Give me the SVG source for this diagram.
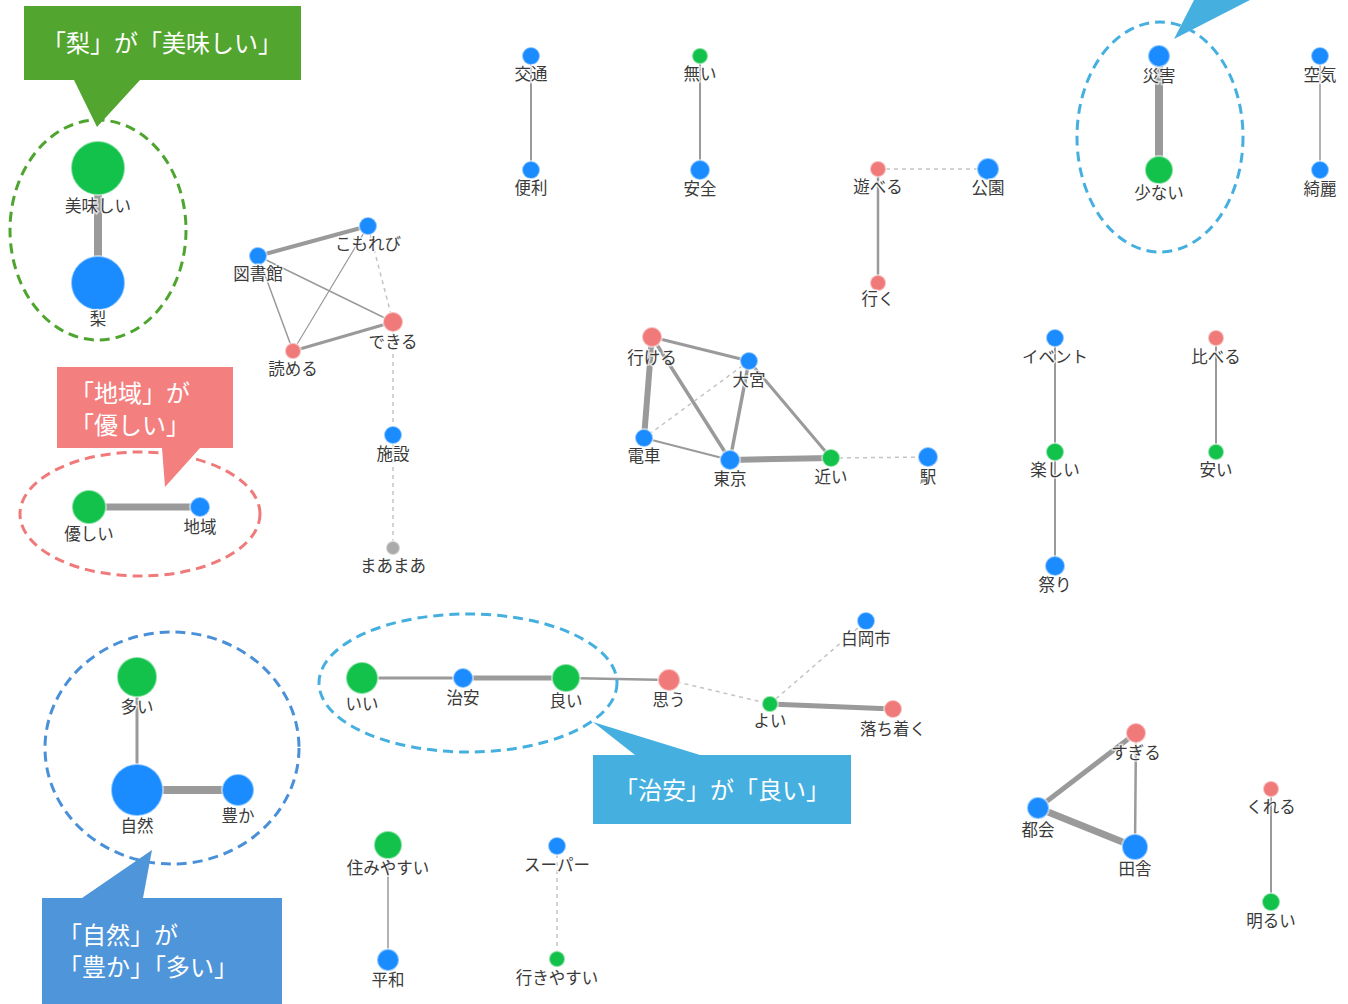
<svg xmlns="http://www.w3.org/2000/svg" width="1348" height="1004" viewBox="0 0 1348 1004">
<style>
.e{stroke:#9a9a9a;fill:none;stroke-linecap:round}
.d{stroke:#c4c4c4;fill:none;stroke-dasharray:4 4;stroke-width:1.5}
.b{fill:#1a8cff}
.g{fill:#12c24a}
.r{fill:#f07a7a}
.k{fill:#aaaaaa}
.n circle{stroke:#ffffff;stroke-opacity:0.5;stroke-width:2}
.n text{font-family:"Noto Sans CJK JP","Noto Sans",sans-serif;font-size:16.5px;fill:#3a3a3a;text-anchor:middle;dominant-baseline:central;paint-order:stroke;stroke:#ffffff;stroke-width:3;stroke-opacity:0.7}
.c text{font-family:"Noto Sans CJK JP","Noto Sans",sans-serif;font-size:24px;fill:#ffffff}
.ov{fill:none;stroke-width:3;stroke-dasharray:10 6}
</style>
<rect width="1348" height="1004" fill="#ffffff"/>

<g id="connectors">
<line class="e" x1="98" y1="168" x2="98" y2="283" stroke-width="8"/>
<line class="e" x1="258" y1="256" x2="368" y2="226" stroke-width="4"/>
<line class="e" x1="258" y1="256" x2="393" y2="322" stroke-width="1.5"/>
<line class="e" x1="258" y1="256" x2="293" y2="351" stroke-width="1.5"/>
<line class="e" x1="368" y1="226" x2="293" y2="351" stroke-width="1.2"/>
<line class="d" x1="368" y1="226" x2="393" y2="322"/>
<line class="e" x1="293" y1="351" x2="393" y2="322" stroke-width="3"/>
<line class="d" x1="393" y1="322" x2="393" y2="435"/>
<line class="d" x1="393" y1="435" x2="393" y2="548"/>
<line class="e" x1="89" y1="507" x2="200" y2="507" stroke-width="7"/>
<line class="e" x1="137" y1="677" x2="137" y2="790" stroke-width="3"/>
<line class="e" x1="137" y1="790" x2="238" y2="790" stroke-width="8"/>
<line class="e" x1="362" y1="678" x2="463" y2="678" stroke-width="3"/>
<line class="e" x1="463" y1="678" x2="566" y2="678" stroke-width="5"/>
<line class="e" x1="566" y1="678" x2="669" y2="680" stroke-width="2.5"/>
<line class="d" x1="669" y1="680" x2="770" y2="704"/>
<line class="d" x1="770" y1="704" x2="866" y2="621"/>
<line class="e" x1="770" y1="704" x2="893" y2="709" stroke-width="5"/>
<line class="e" x1="1159" y1="56" x2="1159" y2="170" stroke-width="8"/>
<line class="e" x1="1320" y1="56" x2="1320" y2="170" stroke-width="1.5"/>
<line class="e" x1="531" y1="56" x2="531" y2="170" stroke-width="2"/>
<line class="e" x1="700" y1="56" x2="700" y2="170" stroke-width="2"/>
<line class="d" x1="878" y1="169" x2="988" y2="169"/>
<line class="e" x1="878" y1="169" x2="878" y2="283" stroke-width="2.5"/>
<line class="e" x1="652" y1="337" x2="749" y2="361" stroke-width="3"/>
<line class="e" x1="652" y1="337" x2="644" y2="438" stroke-width="6"/>
<line class="e" x1="652" y1="337" x2="730" y2="460" stroke-width="3.5"/>
<line class="d" x1="749" y1="361" x2="644" y2="438"/>
<line class="e" x1="749" y1="361" x2="730" y2="460" stroke-width="3.5"/>
<line class="e" x1="749" y1="361" x2="831" y2="458" stroke-width="3"/>
<line class="e" x1="644" y1="438" x2="730" y2="460" stroke-width="2"/>
<line class="e" x1="730" y1="460" x2="831" y2="458" stroke-width="6"/>
<line class="d" x1="831" y1="458" x2="928" y2="457"/>
<line class="e" x1="1055" y1="338" x2="1055" y2="452" stroke-width="2"/>
<line class="e" x1="1055" y1="452" x2="1055" y2="566" stroke-width="2"/>
<line class="e" x1="1216" y1="338" x2="1216" y2="452" stroke-width="2"/>
<line class="e" x1="1136" y1="733" x2="1038" y2="808" stroke-width="5"/>
<line class="e" x1="1038" y1="808" x2="1135" y2="847" stroke-width="7"/>
<line class="e" x1="1136" y1="733" x2="1135" y2="847" stroke-width="2.5"/>
<line class="e" x1="1271" y1="789" x2="1271" y2="902" stroke-width="2"/>
<line class="e" x1="388" y1="845" x2="388" y2="960" stroke-width="1.5"/>
<line class="d" x1="557" y1="846" x2="557" y2="959"/>
</g>

<g id="nodes">
<g id="n-oishii" class="n"><circle class="g" cx="98" cy="168" r="27"/><text x="98" y="205">美味しい</text></g>
<g id="n-nashi" class="n"><circle class="b" cx="98" cy="283" r="27"/><text x="98" y="318">梨</text></g>
<g id="n-toshokan" class="n"><circle class="b" cx="258" cy="256" r="9"/><text x="258" y="273">図書館</text></g>
<g id="n-komorebi" class="n"><circle class="b" cx="368" cy="226" r="9"/><text x="368" y="243">こもれび</text></g>
<g id="n-dekiru" class="n"><circle class="r" cx="393" cy="322" r="10"/><text x="393" y="341">できる</text></g>
<g id="n-yomeru" class="n"><circle class="r" cx="293" cy="351" r="8"/><text x="293" y="368">読める</text></g>
<g id="n-shisetsu" class="n"><circle class="b" cx="393" cy="435" r="9"/><text x="393" y="453">施設</text></g>
<g id="n-maamaa" class="n"><circle class="k" cx="393" cy="548" r="7"/><text x="393" y="565">まあまあ</text></g>
<g id="n-yasashii" class="n"><circle class="g" cx="89" cy="507" r="17"/><text x="89" y="533">優しい</text></g>
<g id="n-chiiki" class="n"><circle class="b" cx="200" cy="507" r="10"/><text x="200" y="526">地域</text></g>
<g id="n-ooi" class="n"><circle class="g" cx="137" cy="677" r="20"/><text x="137" y="706">多い</text></g>
<g id="n-shizen" class="n"><circle class="b" cx="137" cy="790" r="26"/><text x="137" y="825">自然</text></g>
<g id="n-yutaka" class="n"><circle class="b" cx="238" cy="790" r="16"/><text x="238" y="815">豊か</text></g>
<g id="n-ii" class="n"><circle class="g" cx="362" cy="678" r="16"/><text x="362" y="703">いい</text></g>
<g id="n-chian" class="n"><circle class="b" cx="463" cy="678" r="10"/><text x="463" y="697">治安</text></g>
<g id="n-yoi" class="n"><circle class="g" cx="566" cy="678" r="14"/><text x="566" y="700">良い</text></g>
<g id="n-omou" class="n"><circle class="r" cx="669" cy="680" r="11"/><text x="669" y="699">思う</text></g>
<g id="n-yoi2" class="n"><circle class="g" cx="770" cy="704" r="8"/><text x="770" y="720">よい</text></g>
<g id="n-shiraoka" class="n"><circle class="b" cx="866" cy="621" r="9"/><text x="866" y="638">白岡市</text></g>
<g id="n-ochitsuku" class="n"><circle class="r" cx="893" cy="709" r="9"/><text x="893" y="728">落ち着く</text></g>
<g id="n-saigai" class="n"><circle class="b" cx="1159" cy="56" r="11"/><text x="1159" y="75">災害</text></g>
<g id="n-sukunai" class="n"><circle class="g" cx="1159" cy="170" r="14"/><text x="1159" y="192">少ない</text></g>
<g id="n-kuuki" class="n"><circle class="b" cx="1320" cy="56" r="9"/><text x="1320" y="74">空気</text></g>
<g id="n-kirei" class="n"><circle class="b" cx="1320" cy="170" r="9"/><text x="1320" y="188">綺麗</text></g>
<g id="n-koutsuu" class="n"><circle class="b" cx="531" cy="56" r="9"/><text x="531" y="73">交通</text></g>
<g id="n-benri" class="n"><circle class="b" cx="531" cy="170" r="9"/><text x="531" y="187">便利</text></g>
<g id="n-nai" class="n"><circle class="g" cx="700" cy="56" r="8"/><text x="700" y="73">無い</text></g>
<g id="n-anzen" class="n"><circle class="b" cx="700" cy="170" r="10"/><text x="700" y="188">安全</text></g>
<g id="n-asoberu" class="n"><circle class="r" cx="878" cy="169" r="8"/><text x="878" y="186">遊べる</text></g>
<g id="n-kouen" class="n"><circle class="b" cx="988" cy="169" r="11"/><text x="988" y="187">公園</text></g>
<g id="n-iku" class="n"><circle class="r" cx="878" cy="283" r="8"/><text x="878" y="298">行く</text></g>
<g id="n-ikeru" class="n"><circle class="r" cx="652" cy="337" r="10"/><text x="652" y="357">行ける</text></g>
<g id="n-oomiya" class="n"><circle class="b" cx="749" cy="361" r="9"/><text x="749" y="379">大宮</text></g>
<g id="n-densha" class="n"><circle class="b" cx="644" cy="438" r="9"/><text x="644" y="455">電車</text></g>
<g id="n-tokyo" class="n"><circle class="b" cx="730" cy="460" r="10"/><text x="730" y="478">東京</text></g>
<g id="n-chikai" class="n"><circle class="g" cx="831" cy="458" r="9"/><text x="831" y="476">近い</text></g>
<g id="n-eki" class="n"><circle class="b" cx="928" cy="457" r="10"/><text x="928" y="476">駅</text></g>
<g id="n-event" class="n"><circle class="b" cx="1055" cy="338" r="9"/><text x="1055" y="356">イベント</text></g>
<g id="n-tanoshii" class="n"><circle class="g" cx="1055" cy="452" r="9"/><text x="1055" y="469">楽しい</text></g>
<g id="n-matsuri" class="n"><circle class="b" cx="1055" cy="566" r="10"/><text x="1055" y="584">祭り</text></g>
<g id="n-kuraberu" class="n"><circle class="r" cx="1216" cy="338" r="8"/><text x="1216" y="356">比べる</text></g>
<g id="n-yasui" class="n"><circle class="g" cx="1216" cy="452" r="8"/><text x="1216" y="469">安い</text></g>
<g id="n-sugiru" class="n"><circle class="r" cx="1136" cy="733" r="10"/><text x="1136" y="752">すぎる</text></g>
<g id="n-tokai" class="n"><circle class="b" cx="1038" cy="808" r="11"/><text x="1038" y="829">都会</text></g>
<g id="n-inaka" class="n"><circle class="b" cx="1135" cy="847" r="13"/><text x="1135" y="868">田舎</text></g>
<g id="n-kureru" class="n"><circle class="r" cx="1271" cy="789" r="8"/><text x="1271" y="806">くれる</text></g>
<g id="n-akarui" class="n"><circle class="g" cx="1271" cy="902" r="9"/><text x="1271" y="920">明るい</text></g>
<g id="n-sumiyasui" class="n"><circle class="g" cx="388" cy="845" r="14"/><text x="388" y="867">住みやすい</text></g>
<g id="n-heiwa" class="n"><circle class="b" cx="388" cy="960" r="11"/><text x="388" y="979">平和</text></g>
<g id="n-super" class="n"><circle class="b" cx="557" cy="846" r="9"/><text x="557" y="864">スーパー</text></g>
<g id="n-ikiyasui" class="n"><circle class="g" cx="557" cy="959" r="8"/><text x="557" y="977">行きやすい</text></g>
</g>

<g id="highlights">
<ellipse class="ov" cx="98" cy="230" rx="88" ry="110" stroke="#4ea52e"/>
<ellipse class="ov" cx="140" cy="514" rx="120" ry="62" stroke="#f07a7a"/>
<ellipse class="ov" cx="172" cy="748" rx="127" ry="116" stroke="#4a90d9"/>
<ellipse class="ov" cx="468" cy="683" rx="149" ry="69" stroke="#45b0e0"/>
<ellipse class="ov" cx="1160" cy="137" rx="83" ry="115" stroke="#45b0e0"/>
</g>

<g id="callouts" class="c">
<g id="callout-nashi">
<polygon points="24,6 301,6 301,80 140,80 97,127 74,80 24,80" fill="#52a52f"/>
<text x="162" y="52" text-anchor="middle">「梨」が「美味しい」</text>
</g>
<g id="callout-chiiki">
<polygon points="57,367 233,367 233,448 200,448 165,487 162,448 57,448" fill="#f37f7f"/>
<text x="70" y="402">「地域」が</text>
<text x="70" y="434">「優しい」</text>
</g>
<g id="callout-shizen">
<polygon points="42,898 82,898 152,850 143,898 282,898 282,1004 42,1004" fill="#4f95d9"/>
<text x="58" y="944">「自然」が</text>
<text x="58" y="976">「豊か」「多い」</text>
</g>
<g id="callout-chian">
<polygon points="593,755 635,755 593,722 700,755 851,755 851,824 593,824" fill="#45b0e0"/>
<text x="722" y="799" text-anchor="middle">「治安」が「良い」</text>
</g>
<g id="callout-saigai">
<polygon points="1174,39 1194,0 1250,0" fill="#45b0e0"/>
</g>
</g>
</svg>
